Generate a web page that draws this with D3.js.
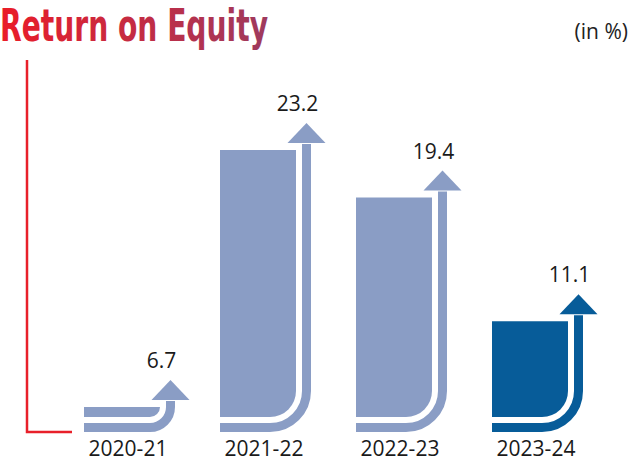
<!DOCTYPE html>
<html>
  <head>
    <meta charset="utf-8">
    <title>Return on Equity</title>
    <script src="https://cdn.jsdelivr.net/npm/d3@7"></script>
    <style>
      body { margin: 0; background: #fff; }
      svg { display: block; }
      .val { font: 21px "Open Sans", sans-serif; fill: #1a1a1a; }
      .cat { font: 21px "Open Sans", sans-serif; fill: #1a1a1a; }
    </style>
  </head>
  <body>
    <script>
    const years = ["2020-21", "2021-22", "2022-23", "2023-24"];
    const roe = [6.7, 23.2, 19.4, 11.1];
    const barColors = ["#8a9dc5", "#8a9dc5", "#8a9dc5", "#075c99"];

    const width = 634, height = 462;
    const base = 417;          // bottom of bars
    const barW = 76, gap = 6, band = 9;

    const svg = d3.select("body").append("svg")
      .attr("width", width)
      .attr("height", height);

    // title gradient
    const grad = svg.append("defs").append("linearGradient")
      .attr("id", "titleGrad")
      .attr("x1", "0%").attr("x2", "100%");
    grad.append("stop").attr("offset", "0%").attr("stop-color", "#ea1c28");
    grad.append("stop").attr("offset", "100%").attr("stop-color", "#9e3a5e");

    svg.append("text")
      .attr("x", 0)
      .attr("y", 41)
      .attr("textLength", 268)
      .attr("lengthAdjust", "spacingAndGlyphs")
      .style("font", "bold 45px 'Liberation Sans Narrow', 'DejaVu Sans Condensed', sans-serif")
      .style("fill", "url(#titleGrad)")
      .text("Return on Equity");

    svg.append("text")
      .attr("x", 628)
      .attr("y", 39)
      .attr("text-anchor", "end")
      .style("font", "21px 'Open Sans', sans-serif")
      .style("fill", "#222")
      .text("(in %)");

    // red L-shaped axis
    svg.append("path")
      .attr("d", "M27,60 V432 H72")
      .attr("fill", "none")
      .attr("stroke", "#e8202a")
      .attr("stroke-width", 2.5);

    const x = d3.scaleBand()
      .domain(years)
      .range([84, 628])
      .paddingInner(0)
      .align(0);

    const y = d3.scalePow()
      .exponent(0.5)
      .domain([6.3, 23.2])
      .range([base - 1, 150]);

    const g = svg.selectAll(".bar")
      .data(years.map((d, i) => ({ year: d, v: roe[i], c: barColors[i] })))
      .enter().append("g")
      .attr("class", "bar");

    g.each(function (d) {
      const sel = d3.select(this);
      const x0 = x(d.year);
      const top = y(d.v);
      const h = base - top;
      const r = Math.min(26, h);
      const xr = x0 + barW;

      // bar with rounded bottom-right corner
      sel.append("path")
        .attr("d", `M${x0},${top} H${xr} V${base - r} A${r},${r} 0 0 1 ${xr - r},${base} H${x0} Z`)
        .attr("fill", d.c);

      // arrow band following the bar
      const off = gap + band / 2;
      const R = r + off;
      const cx = xr + off;
      const headBase = top - 7;
      sel.append("path")
        .attr("d", `M${x0},${base + off} H${xr - r} A${R},${R} 0 0 0 ${cx},${base - r} V${headBase + 1}`)
        .attr("fill", "none")
        .attr("stroke", d.c)
        .attr("stroke-width", band);

      sel.append("path")
        .attr("d", `M${cx - 19},${headBase} L${cx},${headBase - 20} L${cx + 19},${headBase} Z`)
        .attr("fill", d.c);

      sel.append("text")
        .attr("class", "val")
        .attr("x", cx - 9)
        .attr("y", headBase - 32)
        .attr("text-anchor", "middle")
        .text(d.v);

      sel.append("text")
        .attr("class", "cat")
        .attr("x", x0 + 44)
        .attr("y", 456)
        .attr("text-anchor", "middle")
        .text(d.year);
    });
    </script>
  </body>
</html>
